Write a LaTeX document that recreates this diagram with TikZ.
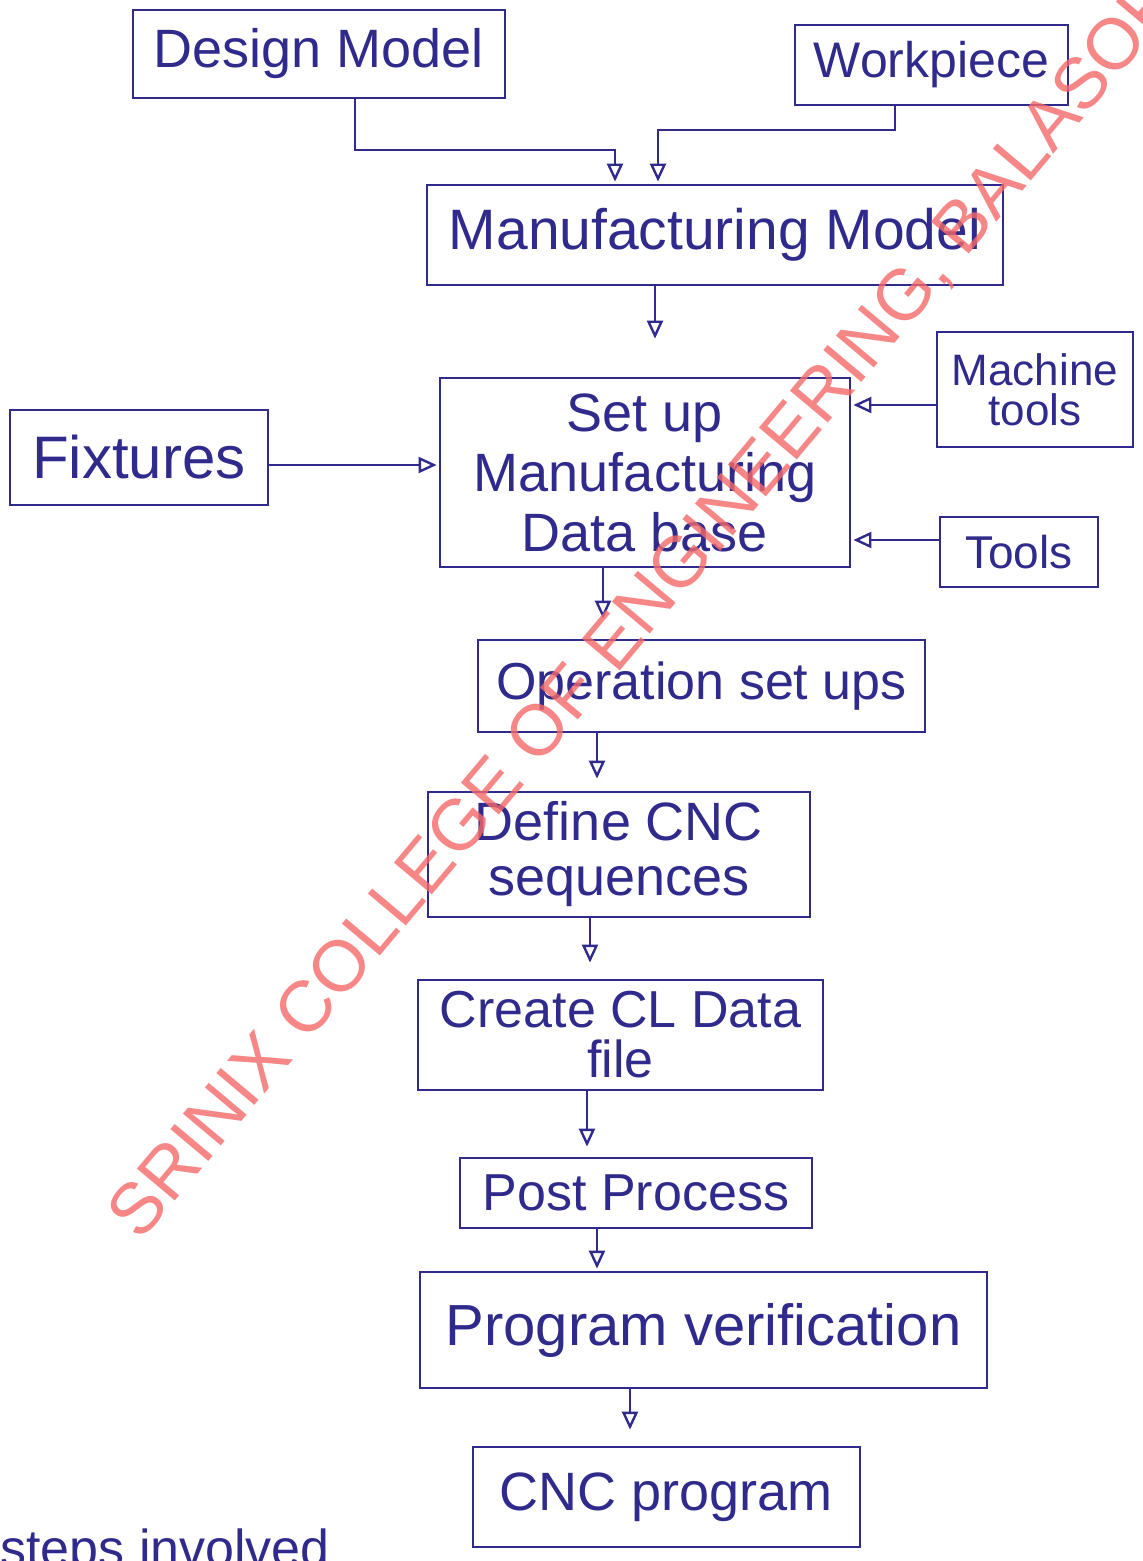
\documentclass[tikz,border=0pt]{standalone}
\usepackage{fontspec}
\setmainfont{Liberation Sans}
\usetikzlibrary{arrows.meta}
\definecolor{pen}{RGB}{48,42,140}
\definecolor{wm}{RGB}{245,105,105}
\begin{document}
\begin{tikzpicture}[x=0.5pt,y=-0.5pt,
  box/.style={draw=pen, line width=1.4pt, inner sep=0pt, align=center, text=pen,
              font=\fontsize{27}{30}\selectfont},
  conn/.style={draw=pen, line width=1.4pt,
              -{Triangle[open,length=9pt,width=8pt,line width=1.2pt]}, shorten >=1pt}]
\useasboundingbox (0,0) rectangle (1143,1561);
\clip (0,0) rectangle (1143,1561);
\fill[white] (0,0) rectangle (1143,1561);

\node[box, minimum width=186pt, minimum height=44pt] (dm) at (319,54) {Design Model};
\node[box, minimum width=136.5pt, minimum height=40pt, font=\fontsize{25}{28}\selectfont] (wp) at (931.5,65) {Workpiece};
\node[box, minimum width=288pt, minimum height=50pt, font=\fontsize{28.5}{30}\selectfont] (mm) at (715,235) {Manufacturing Model};
\node[box, minimum width=205pt, minimum height=94.5pt] (su) at (645,472.5) {Set up\\Manufacturing\\Data base};
\node[box, minimum width=98pt, minimum height=57.5pt, font=\fontsize{22}{20}\selectfont] (mt) at (1035,389.5) {Machine\\tools};
\node[box, minimum width=129pt, minimum height=47.5pt, font=\fontsize{30}{30}\selectfont] (fx) at (139,457.5) {Fixtures};
\node[box, minimum width=79pt, minimum height=35pt, font=\fontsize{23}{26}\selectfont] (tl) at (1019,552) {Tools};
\node[box, minimum width=223.5pt, minimum height=46pt, font=\fontsize{26}{28}\selectfont] (op) at (701.5,686) {Operation set ups};
\node[box, minimum width=191pt, minimum height=62.5pt, font=\fontsize{27}{27.5}\selectfont] (dc) at (619,854.5) {Define CNC\\sequences};
\node[box, minimum width=202.5pt, minimum height=55pt, font=\fontsize{26}{25}\selectfont] (cl) at (620.5,1035) {Create CL Data\\file};
\node[box, minimum width=176pt, minimum height=35pt, font=\fontsize{26}{28}\selectfont] (pp) at (636,1193) {Post Process};
\node[box, minimum width=283.5pt, minimum height=58pt, font=\fontsize{29}{30}\selectfont] (pv) at (703.5,1330) {Program verification};
\node[box, minimum width=193.5pt, minimum height=50pt, font=\fontsize{27}{30}\selectfont] (cnc) at (666.5,1497) {CNC program};

\node[anchor=base west, inner sep=0pt, text=pen, font=\fontsize{26}{28}\selectfont] (st) at (0,1566) {steps involved};

\draw[conn] (355,0 |- dm.south) -- (355,150) -- (615,150) -- (615,0 |- mm.north);
\draw[conn] (895,0 |- wp.south) -- (895,130) -- (658,130) -- (658,0 |- mm.north);
\draw[conn, shorten >=19pt] (655,0 |- mm.south) -- (655,0 |- su.north);
\draw[conn] (mt.west |- 0,405) -- (su.east |- 0,405);
\draw[conn] (tl.west |- 0,540) -- (su.east |- 0,540);
\draw[conn] (fx.east |- 0,465) -- (su.west |- 0,465);
\draw[conn, shorten >=10pt] (603,0 |- su.south) -- (603,0 |- op.north);
\draw[conn, shorten >=6pt] (597,0 |- op.south) -- (597,0 |- dc.north);
\draw[conn, shorten >=8pt] (590,0 |- dc.south) -- (590,0 |- cl.north);
\draw[conn, shorten >=5pt] (587,0 |- cl.south) -- (587,0 |- pp.north);
\draw[conn] (597,0 |- pp.south) -- (597,0 |- pv.north);
\draw[conn, shorten >=8pt] (630,0 |- pv.south) -- (630,0 |- cnc.north);

\node[anchor=base west, inner sep=0pt, rotate=50, text=wm, opacity=0.8,
      font=\fontsize{36}{36}\selectfont] (wmk) at (140,1243) {SRINIX COLLEGE OF ENGINEERING, BALASORE};
\end{tikzpicture}
\end{document}
